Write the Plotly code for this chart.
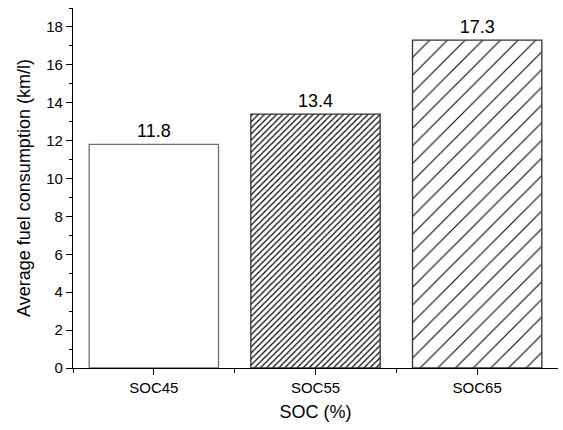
import plotly.graph_objects as go

# Average fuel consumption by battery state-of-charge setting
categories = ["SOC45", "SOC55", "SOC65"]
fuel_km_per_l = [11.8, 13.4, 17.3]
value_labels = ["11.8", "13.4", "17.3"]

positions = list(range(len(categories)))

font = "Arial, Liberation Sans, sans-serif"

fig = go.Figure()
fig.add_trace(go.Bar(
    x=positions,
    y=fuel_km_per_l,
    width=0.8,
    text=value_labels,
    textposition="outside",
    textfont=dict(family=font, size=18, color="black"),
    cliponaxis=False,
    marker=dict(
        color="white",
        line=dict(color=["#707070", "#333333", "#333333"], width=1.3),
        pattern=dict(
            shape=["", "/", "/"],
            size=[8, 4.3, 12.5],
            solidity=[0.2, 0.28, 0.085],
            fgcolor="black",
            fgopacity=1,
            bgcolor="white",
            fillmode="overlay",
        ),
    ),
    showlegend=False,
))

fig.update_layout(
    width=563, height=430,
    margin=dict(l=73, r=5, t=8, b=62),
    plot_bgcolor="white",
    paper_bgcolor="white",
    font=dict(family=font, color="black", size=15),
    bargap=0.2,
)
fig.update_xaxes(
    range=[-0.5, 2.5],
    tickvals=positions,
    ticktext=categories,
    ticks="outside", ticklen=6, tickwidth=1, tickcolor="black",
    minor=dict(tickvals=[-0.5, 0.5, 1.5], ticks="outside", ticklen=4, tickcolor="black"),
    showline=True, linecolor="black", linewidth=1.2,
    showgrid=False, zeroline=False,
    tickfont=dict(size=15),
    title=dict(text="SOC (%)", font=dict(size=18), standoff=10),
)
fig.update_yaxes(
    range=[0, 19],
    tickvals=[0, 2, 4, 6, 8, 10, 12, 14, 16, 18],
    ticks="outside", ticklen=6, tickwidth=1, tickcolor="black",
    minor=dict(dtick=1, tick0=0, ticks="outside", ticklen=3, tickcolor="black"),
    showline=True, linecolor="black", linewidth=1.2,
    showgrid=False, zeroline=False,
    tickfont=dict(size=15),
    title=dict(text="Average fuel consumption (km/l)", font=dict(size=18), standoff=10),
)

fig.write_html("out.html")
